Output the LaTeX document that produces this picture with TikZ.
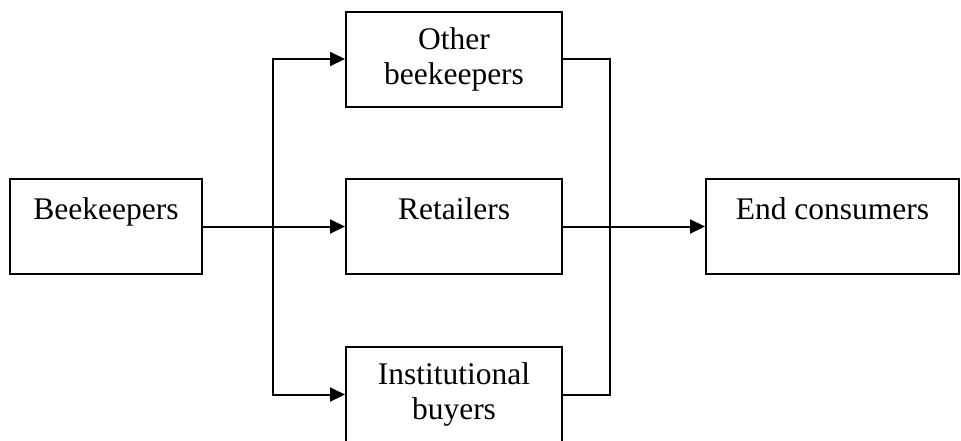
\documentclass[tikz,border=0pt]{standalone}
\usepackage{fontspec}
\setmainfont{Liberation Serif}
\usetikzlibrary{arrows.meta}

\begin{document}
\begin{tikzpicture}
  [x=0.5pt,y=-0.5pt]
      \tikzstyle{box_style} = [draw=black, line width=1pt, inner sep=0pt, align=center,
        font=\fontsize{15.75}{17.5}\selectfont, minimum height=47.5pt]
      \tikzstyle{edge_style} = [draw=black, line width=1pt]
      \tikzstyle{arrow_style} = [edge_style, -{Triangle[length=7.5pt,width=7pt]}]
  \useasboundingbox (0,0) rectangle (961,440);
  \node[box_style, minimum width=96pt] (bk) at (106,226.5) {Beekeepers\\ ~};
  \node[box_style, minimum width=108pt] (oth) at (454,59) {Other\\beekeepers};
  \node[box_style, minimum width=108pt] (ret) at (454,226.5) {Retailers\\ ~};
  \node[box_style, minimum width=108pt] (inst) at (454,394.5) {Institutional\\buyers};
  \node[box_style, minimum width=126.5pt] (ec) at (832.5,226.5) {End consumers\\ ~};
  \coordinate (split) at (273,226.5);
  \coordinate (join) at (610,226.5);
  \draw[arrow_style] (bk) -- (ret);
  \draw[arrow_style] (split) |- (oth.west);
  \draw[arrow_style] (split) |- (inst.west);
  \draw[edge_style] (oth.east) -| (join) |- (inst.east);
  \draw[arrow_style] (ret) -- (ec);
\end{tikzpicture}
\end{document}
